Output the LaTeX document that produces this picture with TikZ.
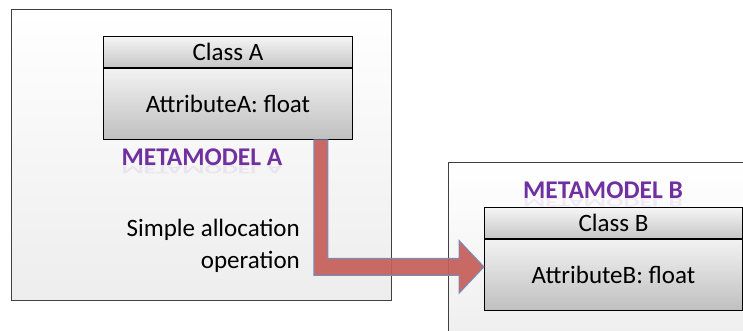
\documentclass[tikz,border=0pt]{standalone}
\usepackage{fontspec}
\setmainfont{Carlito}
\usetikzlibrary{positioning,calc,shadows}

\definecolor{mmpurple}{HTML}{7030A0}
\definecolor{arrowred}{HTML}{C65F5A}
\definecolor{arrowblue}{HTML}{6F8FC4}

\tikzset{
  panel/.style={draw=black!75, line width=0.8pt, top color=white, bottom color=black!7, inner sep=0pt, anchor=north west},
  classhead/.style={draw=black, line width=0.9pt, top color=black!4, bottom color=black!22, minimum width=249pt, minimum height=31pt, inner sep=0pt, font=\fontsize{25}{30}\selectfont},
  classbody/.style={draw=black, line width=0.9pt, top color=black!5, bottom color=black!25, minimum width=249pt, minimum height=71pt, inner sep=0pt, font=\fontsize{25}{30}\selectfont},
  mmlabel/.style={text=mmpurple, font=\fontsize{25.5}{28}\selectfont\bfseries, inner sep=0pt},
  mmshadow/.style={text=mmpurple!60, font=\fontsize{25.5}{28}\selectfont\bfseries, inner sep=0pt, yscale=-0.5, anchor=south, opacity=0.15},
  bigarrow/.style={fill=arrowred, fill opacity=0.93, draw=arrowblue, line width=0.9pt, line join=miter}
}

\begin{document}
\begin{tikzpicture}[x=1pt, y=-1pt]
\useasboundingbox (0,0) rectangle (743,331);
\fill[white] (0,0) rectangle (743,331);

% the two metamodels
\node[panel, minimum width=380pt, minimum height=291pt] (panelA) at (11,9) {};
\node[panel, minimum width=330pt, minimum height=190pt] (panelB) at (448,162) {};

% class A
\node[classhead, anchor=north west] (headA) at (103,36) {Class A};
\node[classbody, below=0pt of headA] (bodyA) {AttributeA: float};
\node[mmlabel] (mmA) at (202,157) {METAMODEL A};
\node[mmshadow] (mmAshadow) at (mmA.south) {METAMODEL A};
\node[align=right, font=\fontsize{25}{32}\selectfont, anchor=east, inner sep=0pt] (opText) at (300,246) {Simple allocation\\operation};

% class B
\node[classhead, anchor=north west, minimum width=258pt] (headB) at (484,207) {Class B};
\node[classbody, below=0pt of headB, minimum width=258pt] (bodyB) {AttributeB: float};
\node[mmlabel] (mmB) at (603,190) {METAMODEL B};
\node[mmshadow] (mmBshadow) at (mmB.south) {METAMODEL B};

% allocation arrow
\coordinate (start) at ([xshift=-32pt]bodyA.south east);
\coordinate (tip) at ([yshift=8pt]bodyB.west);
\draw[bigarrow] let \p1=(start), \p2=(tip) in
  (\x1-7pt,\y1) -- (\x1+7pt,\y1) -- (\x1+7pt,\y2+8.5pt) -- (\x2-25pt,\y2+8.5pt)
  -- (\x2-25pt,\y2+26.5pt) -- (\p2) -- (\x2-25pt,\y2-26.5pt) -- (\x2-25pt,\y2-8.5pt)
  -- (\x1-7pt,\y2-8.5pt) -- cycle;
\end{tikzpicture}
\end{document}
